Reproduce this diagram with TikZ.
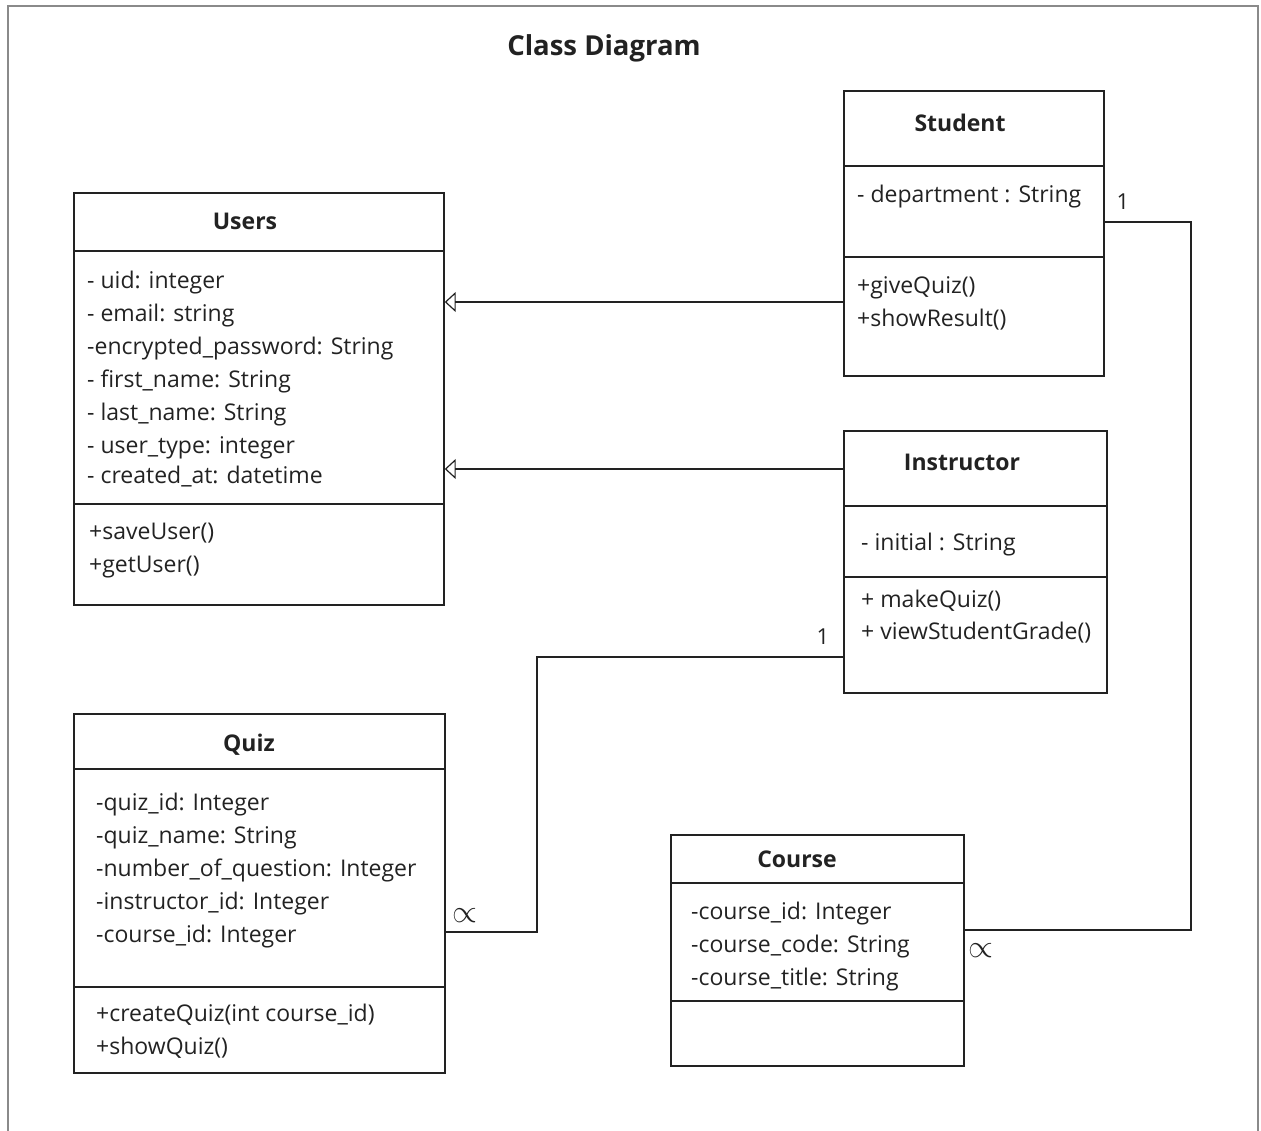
\documentclass[tikz,border=0pt]{standalone}
\usepackage{fontspec}
\setmainfont{Open Sans}
\usetikzlibrary{arrows.meta,calc}
\definecolor{ink}{HTML}{222222}
\definecolor{frame}{HTML}{8A8A8A}
\begin{document}
\begin{tikzpicture}[x=1pt,y=-1pt,
  classbox/.style={draw=ink, line width=1.4pt, inner sep=0pt, rectangle},
  divider/.style={draw=ink, line width=1.4pt},
  attr/.style={anchor=mid west, inner sep=0pt, text=ink, font=\fontsize{23}{27}\selectfont, yshift=-5pt},
  ctitle/.style={anchor=mid, inner sep=0pt, text=ink, font=\bfseries\fontsize{23}{27}\selectfont, yshift=-5pt},
  conn/.style={draw=ink, line width=1.3pt},
  inh/.style={conn, -{Triangle[open, length=11pt, width=20pt, line width=1.2pt]}},
  mult/.style={anchor=mid, inner sep=0pt, text=ink, font=\fontsize{22}{26}\selectfont, yshift=-4pt},
  manyend/.style={anchor=center, inner sep=0pt, text=ink}
]
\useasboundingbox (0,0) rectangle (1261,1131);
\draw[frame, line width=2.2pt] (8,1135) -- (8,6) -- (1258,6) -- (1258,1135);

\node[inner sep=0pt, anchor=mid, text=ink, font=\bfseries\fontsize{27.5}{32}\selectfont, yshift=-5pt] (title) at (604,48) {Class Diagram};

% Users
\node[classbox, minimum width=370pt, minimum height=412pt] (users) at (259,399) {};
\draw[divider] (users.west |- 0,251) -- (users.east |- 0,251);
\draw[divider] (users.west |- 0,504) -- (users.east |- 0,504);
\node[ctitle] (userst) at (245,222) {Users};
\foreach \t/\y [count=\i] in {- uid: integer/281, - email: string/314, -encrypted\_password: String/347, - first\_name: String/380, - last\_name: String/413, - user\_type: integer/446, - created\_at: datetime/476}
  \node[attr] (ua\i) at (87,\y) {\t};
\node[attr] (um1) at (89,532) {+saveUser()};
\node[attr] (um2) at (89,565) {+getUser()};

% Student
\node[classbox, minimum width=260pt, minimum height=285pt] (student) at (974,233.5) {};
\draw[divider] (student.west |- 0,166) -- (student.east |- 0,166);
\draw[divider] (student.west |- 0,257) -- (student.east |- 0,257);
\node[ctitle] (studentt) at (960,124) {Student};
\node[attr] (sa1) at (857,195) {- department : String};
\node[attr] (sm1) at (857,286) {+giveQuiz()};
\node[attr] (sm2) at (857,319) {+showResult()};

% Instructor
\node[classbox, minimum width=263pt, minimum height=262pt] (instructor) at (975.5,562) {};
\draw[divider] (instructor.west |- 0,506) -- (instructor.east |- 0,506);
\draw[divider] (instructor.west |- 0,577) -- (instructor.east |- 0,577);
\node[ctitle] (instructort) at (962,463) {Instructor};
\node[attr] (ia1) at (861,543) {- initial : String};
\node[attr] (im1) at (861,600) {+ makeQuiz()};
\node[attr] (im2) at (861,632) {+ viewStudentGrade()};

% Quiz
\node[classbox, minimum width=371pt, minimum height=359pt] (quiz) at (259.5,893.5) {};
\draw[divider] (quiz.west |- 0,769) -- (quiz.east |- 0,769);
\draw[divider] (quiz.west |- 0,987) -- (quiz.east |- 0,987);
\node[ctitle] (quizt) at (249,744) {Quiz};
\foreach \t/\y [count=\i] in {-quiz\_id: Integer/803, -quiz\_name: String/836, -number\_of\_question: Integer/869, -instructor\_id: Integer/902, -course\_id: Integer/935}
  \node[attr] (qa\i) at (96,\y) {\t};
\node[attr] (qm1) at (96,1014) {+createQuiz(int course\_id)};
\node[attr] (qm2) at (96,1047) {+showQuiz()};

% Course
\node[classbox, minimum width=293pt, minimum height=231pt] (course) at (817.5,950.5) {};
\draw[divider] (course.west |- 0,883) -- (course.east |- 0,883);
\draw[divider] (course.west |- 0,1001) -- (course.east |- 0,1001);
\node[ctitle] (courset) at (797,860) {Course};
\foreach \t/\y [count=\i] in {-course\_id: Integer/912, -course\_code: String/945, -course\_title: String/978}
  \node[attr] (ca1\i) at (691,\y) {\t};

% Generalizations
\draw[inh] (student.west |- 0,302) -- (users.east |- 0,302);
\draw[inh] (instructor.west |- 0,469) -- (users.east |- 0,469);

% Associations
\coordinate (bendS) at (1191,930);
\draw[conn] (student.east |- 0,222) -| (bendS) -- (course.east |- bendS);
\coordinate (bendQ) at (537,932);
\draw[conn] (instructor.west |- 0,657) -| (bendQ) -- (quiz.east |- bendQ);

\node[mult] (m1) at (1123,203) {1};
\node[mult] (m2) at (823,638) {1};
\node[manyend] (m3) at (465,916) {\scalebox{3.2}{$\propto$}};
\node[manyend] (m4) at (981,951) {\scalebox{3.2}{$\propto$}};
\end{tikzpicture}
\end{document}
